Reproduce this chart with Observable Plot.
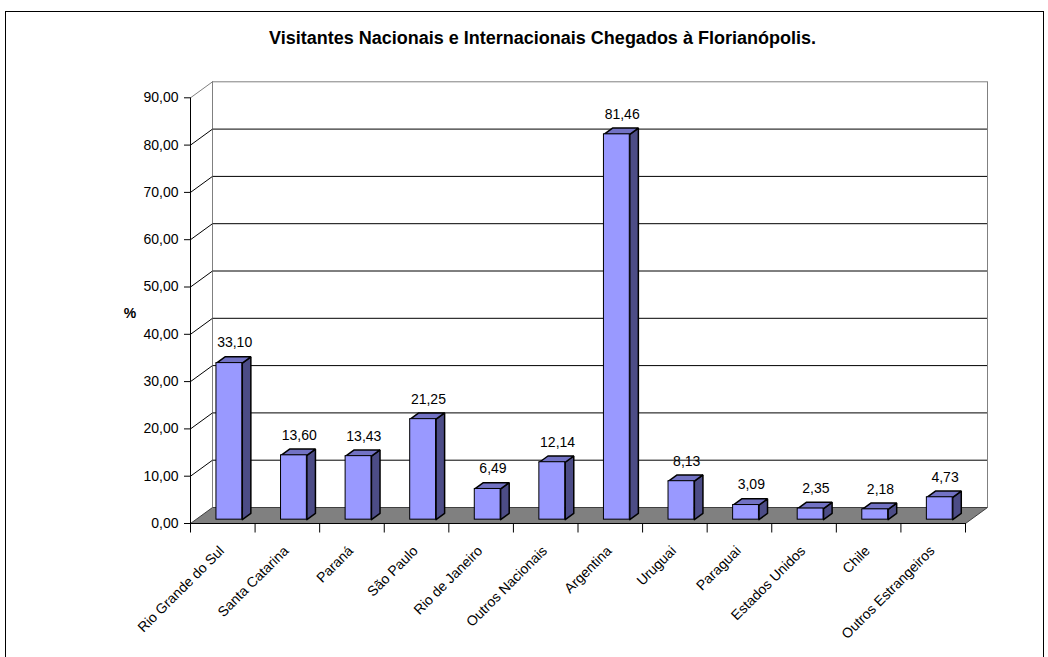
<!DOCTYPE html>
<html><head><meta charset="utf-8">
<script src="https://cdn.jsdelivr.net/npm/d3@7"></script>
<script src="https://cdn.jsdelivr.net/npm/@observablehq/plot@0.6"></script>
<style>
body{margin:0;background:#fff;font-family:Arial,"Liberation Sans",sans-serif;}
#chart{position:absolute;left:0;top:0;}
#frame{position:absolute;left:5px;top:11px;width:1037px;height:700px;border:1px solid #000;}
#title{position:absolute;left:0;top:28px;width:1085px;text-align:center;font-weight:bold;font-size:18px;line-height:20px;color:#000;}
</style></head><body>
<div id="chart"></div>
<div id="frame"></div>
<div id="title">Visitantes Nacionais e Internacionais Chegados à Florianópolis.</div>
<script>
const categories = ["Rio Grande do Sul","Santa Catarina","Paraná","São Paulo","Rio de Janeiro","Outros Nacionais","Argentina","Uruguai","Paraguai","Estados Unidos","Chile","Outros Estrangeiros"];
const values = [33.10, 13.60, 13.43, 21.25, 6.49, 12.14, 81.46, 8.13, 3.09, 2.35, 2.18, 4.73];
const yTicks = [0,10,20,30,40,50,60,70,80,90];
const yLabel = "%";

const W = 1048, H = 657;
const xL = 190, xR = 965, y0 = 523, yTop = 97.3;
const n = categories.length;
const ux = (xR - xL) / n, uy = (y0 - yTop) / 90;
const depthPxX = 22, depthPxY = 16;
const dXd = depthPxX / ux, dYd = depthPxY / uy;
const zF = 0.24, zB = 0.63, bl = 0.32, bw = 0.40, zM = (zF + zB) / 2;
const fmt = v => d3.format(".2f")(v).replace(".", ",");
const P = (xv, yv, z, id) => ({id, x: xv + z * dXd, y: yv + z * dYd});

const data = categories.map((c, i) => ({i, c, v: values[i]}));
const floor = [P(0,0,0,"f"), P(n,0,0,"f"), P(n,0,1,"f"), P(0,0,1,"f"), P(0,0,0,"f")];
const sides = [], tops = [];
data.forEach(d => {
  const xl = d.i + bl, xr = d.i + bl + bw;
  sides.push(P(xr,0,zF,d.i), P(xr,0,zB,d.i), P(xr,d.v,zB,d.i), P(xr,d.v,zF,d.i), P(xr,0,zF,d.i));
  tops.push(P(xl,d.v,zF,d.i), P(xr,d.v,zF,d.i), P(xr,d.v,zB,d.i), P(xl,d.v,zB,d.i), P(xl,d.v,zF,d.i));
});

const chart = Plot.plot({
  width: W, height: H,
  marginLeft: xL, marginRight: W - xR, marginTop: yTop, marginBottom: H - y0,
  x: {domain: [0, n], axis: null},
  y: {domain: [0, 90], axis: null},
  style: {fontFamily: "Arial, 'Liberation Sans', sans-serif", fontSize: "14px", background: "transparent", overflow: "visible", color: "#000"},
  marks: [
    Plot.ruleY(yTicks.slice(1, -1), {x1: dXd, x2: n + dXd, y: d => d + dYd, stroke: "#000"}),
    Plot.ruleY([90], {x1: dXd, x2: n + dXd, y: d => d + dYd, stroke: "#808080"}),
    Plot.ruleX([dXd, n + dXd], {y1: dYd, y2: 90 + dYd, stroke: "#808080"}),
    Plot.link(yTicks.slice(1), {x1: 0, y1: d => d, x2: dXd, y2: d => d + dYd, stroke: d => d === 90 ? "#808080" : "#000"}),
    Plot.line(floor, {x: "x", y: "y", fill: "#808080", stroke: "#404040", strokeWidth: 1}),
    Plot.ruleY([0], {x1: 0, x2: n, stroke: "#000"}),
    Plot.ruleX([0], {y1: 0, y2: 90, stroke: "#000"}),
    Plot.ruleY(yTicks, {x1: -6 / ux, x2: 0, stroke: "#000"}),
    Plot.text(yTicks, {x: 0, y: d => d, dx: -12, textAnchor: "end", text: fmt, fill: "#000"}),
    Plot.ruleX(d3.range(n + 1), {y1: 0, y2: -9.5 / uy, stroke: "#000"}),
    Plot.line(sides, {x: "x", y: "y", z: "id", fill: "#4c4c86", stroke: "#000", strokeLinejoin: "miter"}),
    Plot.line(tops, {x: "x", y: "y", z: "id", fill: "#7272c4", stroke: "#000", strokeLinejoin: "miter"}),
    Plot.rect(data, {x1: d => d.i + bl, x2: d => d.i + bl + bw, y1: 0, y2: "v", dx: zF * depthPxX, dy: -zF * depthPxY, fill: "#9999ff", stroke: "#000"}),
    Plot.text(data, {x: d => d.i + bl + bw / 2 + zM * dXd, y: d => d.v + zM * dYd, dx: 1, dy: -17, text: d => fmt(d.v), fill: "#000"}),
    Plot.text(data, {x: d => d.i + 0.5, y: 0, dx: -1, dy: 25, rotate: -45, textAnchor: "end", text: "c", fill: "#000"}),
    Plot.text([yLabel], {x: 0, y: 44.3, dx: -60.5, text: d => d, fontWeight: "bold", fill: "#000"})
  ]
});
document.getElementById("chart").appendChild(chart);
</script>
</body></html>
